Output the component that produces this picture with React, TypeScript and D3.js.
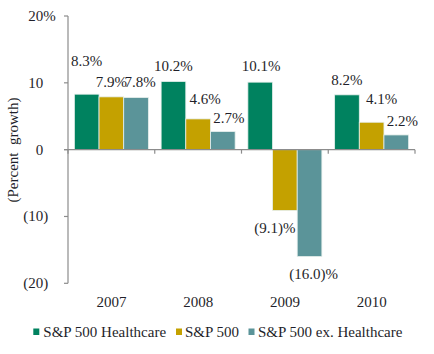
import React from "react";
import * as d3 from "d3";

const years = ["2007", "2008", "2009", "2010"];
const seriesNames = ["S&P 500 Healthcare", "S&P 500", "S&P 500 ex. Healthcare"];
const healthcare = [8.3, 10.2, 10.1, 8.2];
const sp500 = [7.9, 4.6, -9.1, 4.1];
const sp500ExHealthcare = [7.8, 2.7, -16.0, 2.2];
const yTicks = [-20, -10, 0, 10, 20];

const colors = ["#00825F", "#C4A100", "#5B9499"];
// label nudges [dx, gap] per year per series (layout only)
const labelNudge = [
  [[0, 33], [0, 15], [4, 16]],
  [[0, 15], [7, 20], [6, 14]],
  [[1, 16], [-10, 18], [4, 17]],
  [[0, 15], [10, 23], [6, 14]],
];

const W = 434;
const H = 354;
const font = "Liberation Serif";
const textColor = "#1f1f2a";
const axisColor = "#8c8c8c";

function fmtLabel(v: number) {
  return v < 0 ? `(${Math.abs(v).toFixed(1)})%` : `${v.toFixed(1)}%`;
}

export default function App() {
  const series = [healthcare, sp500, sp500ExHealthcare];
  const y = d3.scaleLinear().domain([-20, 20]).range([283.3, 16]);
  const x0 = d3.scaleBand<string>().domain(years).range([68, 415]).paddingInner(0.147).paddingOuter(0.0735);
  const x1 = d3.scaleBand<number>().domain([0, 1, 2]).range([0, x0.bandwidth()]);
  const zero = y(0);
  const bounds = [68, ...years.map((yr) => (x0(yr) as number) + x0.bandwidth() + (x0.step() * 0.147) / 2)];
  const ts = { fontFamily: font };

  return (
    <svg width={W} height={H} style={{ position: "absolute", left: 0, top: 0, fontFamily: font }}>
      <rect width={W} height={H} fill="#fff" />
      {years.map((yr, i) =>
        series.map((s, j) => {
          const v = s[i];
          const bx = (x0(yr) as number) + (x1(j) as number);
          const top = Math.min(y(v), zero);
          const h = Math.abs(y(v) - zero);
          return (
            <rect key={`${i}-${j}`} x={bx} y={top} width={x1.bandwidth()} height={h} fill={colors[j]} stroke="#e6efec" strokeWidth={0.8} />
          );
        })
      )}
      <line x1={68} x2={68} y1={y(20)} y2={y(-20)} stroke={axisColor} strokeWidth={1.2} />
      {yTicks.map((t) => (
        <line key={t} x1={64} x2={68} y1={y(t)} y2={y(t)} stroke={axisColor} strokeWidth={1.2} />
      ))}
      <line x1={64} x2={415} y1={zero} y2={zero} stroke={axisColor} strokeWidth={1.2} />
      {bounds.map((b, i) => (
        <line key={i} x1={b} x2={b} y1={zero} y2={zero + 4} stroke={axisColor} strokeWidth={1.2} />
      ))}
      {yTicks.map((t) => {
        const main = t < 0 ? `(${Math.abs(t)}` : `${t}`;
        const suffix = t < 0 ? ")" : t === 20 ? "%" : "";
        return (
          <g key={t} fontSize={15} fill={textColor}>
            <text x={43.3} y={y(t) + 5} textAnchor="end" style={ts}>{main}</text>
            {suffix && <text x={43.3} y={y(t) + 5} textAnchor="start" style={ts}>{suffix}</text>}
          </g>
        );
      })}
      <text transform={`translate(13,150) rotate(-90)`} textAnchor="middle" dominantBaseline="central" fontSize={15} fill={textColor} style={{ whiteSpace: "pre", fontFamily: font }}>
        {"(Percent  growth)"}
      </text>
      {years.map((yr) => (
        <text key={yr} x={(x0(yr) as number) + x0.bandwidth() / 2} y={307} textAnchor="middle" fontSize={15} fill={textColor} style={ts}>
          {yr}
        </text>
      ))}
      {years.map((yr, i) =>
        series.map((s, j) => {
          const v = s[i];
          const cx = (x0(yr) as number) + (x1(j) as number) + x1.bandwidth() / 2 + labelNudge[i][j][0];
          const cy = v >= 0 ? y(v) - labelNudge[i][j][1] : y(v) + labelNudge[i][j][1];
          return (
            <text key={`l${i}-${j}`} x={cx} y={cy + 5} textAnchor="middle" fontSize={15} fill={textColor} style={ts}>
              {fmtLabel(v)}
            </text>
          );
        })
      )}
      {[
        [33.3, 43.3],
        [176, 185],
        [248.5, 258],
      ].map(([mx, tx], j) => (
        <g key={j}>
          <rect x={mx} y={328.5} width={6} height={6.5} fill={colors[j]} />
          <text x={tx} y={337} fontSize={15} fill={textColor} style={ts}>
            {seriesNames[j]}
          </text>
        </g>
      ))}
    </svg>
  );
}
